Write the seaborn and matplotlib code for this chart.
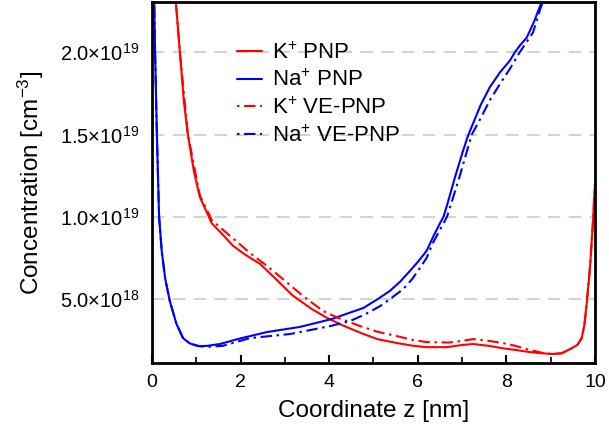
import numpy as np
import pandas as pd
import matplotlib
matplotlib.use("Agg")
import matplotlib.pyplot as plt
import seaborn as sns
from matplotlib.ticker import FixedLocator, MultipleLocator

# ---- data (concentration in units of 1e18 cm^-3) ----
k_pnp_z = [0.50, 0.54, 0.63, 0.72, 0.81, 0.95, 1.08, 1.35, 1.60, 1.83, 2.10, 2.44, 2.80, 3.18,
           3.60, 3.95, 4.30, 4.77, 5.10, 5.53, 5.90, 6.20, 6.66, 7.00, 7.25, 7.60, 7.92, 8.20,
           8.53, 8.80, 9.05, 9.25, 9.44, 9.60, 9.70, 9.76, 9.82, 9.89, 9.95, 10.0]
k_pnp_c = [25, 23, 20, 17, 15, 12.7, 11.2, 9.6, 8.9, 8.23, 7.7, 7.13, 6.2, 5.2,
           4.4, 3.85, 3.4, 2.87, 2.55, 2.32, 2.15, 2.07, 2.07, 2.2, 2.26, 2.15, 2.0, 1.9,
           1.77, 1.7, 1.65, 1.7, 1.95, 2.2, 2.62, 3.4, 4.9, 7.0, 9.5, 12.0]

k_ve_z = [0.50, 0.54, 0.63, 0.81, 1.08, 1.35, 1.69, 2.21, 2.60, 2.96, 3.40, 3.86, 4.20, 4.70,
          5.10, 5.53, 5.90, 6.20, 6.70, 7.00, 7.25, 7.60, 7.92, 8.20, 8.46, 8.83, 9.05, 9.25,
          9.44, 9.60, 9.70, 9.76, 9.82, 9.89, 9.95, 10.0]
k_ve_c = [25, 23, 20, 15, 11.3, 9.8, 9.0, 7.8, 7.0, 6.2, 5.2, 4.27, 3.85, 3.35,
          3.0, 2.74, 2.5, 2.38, 2.35, 2.45, 2.56, 2.45, 2.32, 2.15, 1.95, 1.71, 1.65, 1.7,
          1.95, 2.2, 2.62, 3.4, 4.9, 7.0, 9.5, 12.0]

na_pnp_z = [0.04, 0.05, 0.07, 0.11, 0.16, 0.22, 0.30, 0.40, 0.55, 0.70, 0.85, 1.00, 1.08, 1.25,
            1.53, 1.99, 2.60, 3.34, 4.06, 4.50, 4.77, 5.10, 5.37, 5.60, 5.82, 6.00, 6.20, 6.35,
            6.50, 6.58, 6.66, 6.85, 7.02, 7.13, 7.22, 7.42, 7.63, 7.86, 8.08, 8.19, 8.30, 8.46,
            8.63, 8.80, 8.90]
na_pnp_c = [26, 23, 20, 15, 10, 7.9, 6.2, 4.9, 3.5, 2.62, 2.3, 2.17, 2.13, 2.15,
            2.26, 2.6, 2.99, 3.3, 3.78, 4.2, 4.45, 5.0, 5.49, 6.05, 6.7, 7.25, 7.93, 8.8,
            9.6, 10.0, 10.7, 12.5, 14.0, 14.9, 15.5, 16.8, 17.9, 18.8, 19.5, 20.0, 20.4, 20.9,
            21.9, 23.1, 24]

na_ve_z = [0.04, 0.05, 0.07, 0.11, 0.16, 0.22, 0.30, 0.40, 0.55, 0.70, 0.85, 1.00, 1.10, 1.30,
           1.60, 2.21, 3.12, 4.02, 4.47, 4.80, 5.15, 5.40, 5.67, 5.87, 6.05, 6.20, 6.34, 6.50,
           6.66, 6.80, 6.95, 7.10, 7.22, 7.40, 7.63, 7.86, 8.08, 8.30, 8.60, 8.76, 8.88, 8.95]
na_ve_c = [26, 23, 20, 15, 10, 7.9, 6.2, 4.9, 3.5, 2.62, 2.3, 2.17, 2.12, 2.1,
           2.15, 2.62, 2.87, 3.35, 3.66, 4.05, 4.57, 5.05, 5.6, 6.2, 6.89, 7.5, 8.4, 9.2,
           10.0, 11.2, 12.5, 13.9, 15.0, 15.9, 17.1, 18.1, 19.0, 20.0, 21.2, 22.6, 23.5, 24]

y_ticks = [5e18, 1e19, 1.5e19, 2e19]
y_tick_labels = [r"5.0$\times$10$^{18}$", r"1.0$\times$10$^{19}$",
                 r"1.5$\times$10$^{19}$", r"2.0$\times$10$^{19}$"]
x_ticks = [0, 2, 4, 6, 8, 10]

# ---- style ----
sns.set_theme(style="white")
plt.rcParams["font.family"] = ["Liberation Sans", "DejaVu Sans"]
plt.rcParams["mathtext.fontset"] = "custom"
plt.rcParams["mathtext.rm"] = "Liberation Sans"
plt.rcParams["mathtext.default"] = "regular"
for key in ["text.color", "axes.labelcolor", "xtick.color", "ytick.color"]:
    plt.rcParams[key] = "black"

fig = plt.figure(figsize=(6.09, 4.38), dpi=100)
ax = fig.add_axes([0.2496, 0.171, 0.7274, 0.824])

dashdot = (0, (1.2, 2.2, 5.5, 2.2))
series = [
    (k_pnp_z, k_pnp_c, "red", "-", r"K$^{+}$ PNP"),
    (na_pnp_z, na_pnp_c, "blue", "-", r"Na$^{+}$ PNP"),
    (k_ve_z, k_ve_c, "red", dashdot, r"K$^{+}$ VE-PNP"),
    (na_ve_z, na_ve_c, "blue", dashdot, r"Na$^{+}$ VE-PNP"),
]
for z, c, col, ls, lab in series:
    sns.lineplot(x=np.array(z), y=np.array(c) * 1e18, ax=ax, color=col,
                 linestyle=ls, linewidth=1.5, label=lab, sort=False, estimator=None)

ax.set_xlim(0, 10)
ax.set_ylim(1.1e18, 2.305e19)

for y in y_ticks:
    ax.axhline(y, color="#d3d3d3", linestyle=(0, (6, 4)), linewidth=1.5, zorder=0)

ax.yaxis.set_major_locator(FixedLocator(y_ticks))
ax.set_yticklabels(y_tick_labels)
ax.xaxis.set_major_locator(FixedLocator(x_ticks))
ax.xaxis.set_minor_locator(MultipleLocator(1))
ax.tick_params(axis="x", which="major", direction="in", length=6, width=1.5,
               labelsize=14, pad=8, bottom=True, top=False)
ax.tick_params(axis="x", which="minor", direction="in", length=4, width=1.2,
               bottom=True, top=False)
ax.tick_params(axis="y", which="both", length=0, labelsize=14.5, pad=9)

for sp in ax.spines.values():
    sp.set_color("black")
    sp.set_linewidth(2)

ax.set_xlabel("Coordinate z [nm]", fontsize=17.5, labelpad=6)
ax.set_ylabel(r"Concentration [cm$^{-3}$]", fontsize=17.5, labelpad=10)

leg = ax.legend(loc="upper left", bbox_to_anchor=(0.192, 0.889), frameon=False,
                fontsize=16, handlelength=1.1, handletextpad=0.45, labelspacing=0.28,
                borderpad=0, borderaxespad=0)

fig.savefig("out.png", dpi=100)
